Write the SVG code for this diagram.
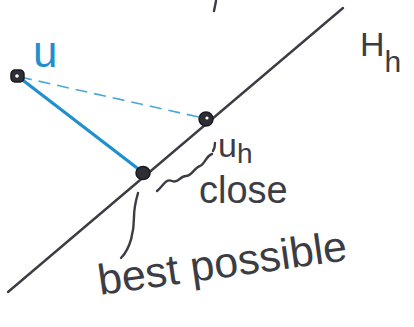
<svg xmlns="http://www.w3.org/2000/svg" width="414" height="327" viewBox="0 0 414 327">
<style>
.ink{fill:none;stroke:#3c3c44;stroke-width:2.4;stroke-linecap:round;stroke-linejoin:round}
.blue{fill:none;stroke:#1f8fcf;stroke-width:3.2;stroke-linecap:round}
.dash{fill:none;stroke:#4aa6d6;stroke-width:1.6;stroke-dasharray:12 7}
.pt{fill:#2e2e36;stroke:#1a1a1f;stroke-width:1.5}
.lbl{font-family:"Liberation Sans",Arial,sans-serif;fill:#3c3c44}
.lblb{font-family:"Liberation Sans",Arial,sans-serif;fill:#1f8fcf}
</style>
<rect width="414" height="327" fill="#ffffff"/>
<path class="ink" d="M216 1 L214 11"/>
<g id="subspace">
<path class="ink" d="M8 292 L343 8"/>
<text class="lbl" x="360" y="56" font-size="34">H<tspan font-size="30" dy="16">h</tspan></text>
</g>
<g id="connectors">
<path class="dash" d="M20 77 L203 118"/>
<path class="blue" d="M20 78 L141 171"/>
<path class="ink" d="M157 191 C163 186 166 178 172 181 C178 184 180 176 186 176 C192 176 194 168 200 166 C205 164 206 156 212 154"/>
<path class="ink" d="M121 258 C131 248 134 230 134 217 C134 208 136 200 138 193"/>
<path class="ink" d="M213 151 C215 148 215 145 215 143"/>
</g>
<g id="u">
<rect class="pt" x="11" y="70" width="13" height="12" rx="4"/>
<circle cx="17" cy="76" r="1.8" fill="#fff"/>
<text class="lblb" x="33" y="67" font-size="44">u</text>
</g>
<g id="u_h">
<ellipse class="pt" cx="206" cy="119" rx="7" ry="7"/>
<circle cx="207" cy="118" r="1.6" fill="#fff"/>
<text class="lbl" x="218" y="157" font-size="34">u<tspan font-size="28" dy="6">h</tspan></text>
</g>
<g id="best">
<ellipse class="pt" cx="143" cy="173" rx="7" ry="6.5"/>
<text class="lbl" x="199" y="203" font-size="38">close</text>
<text class="lbl" x="100" y="295" font-size="43" transform="rotate(-8 100 295)">best possible</text>
</g>
</svg>
